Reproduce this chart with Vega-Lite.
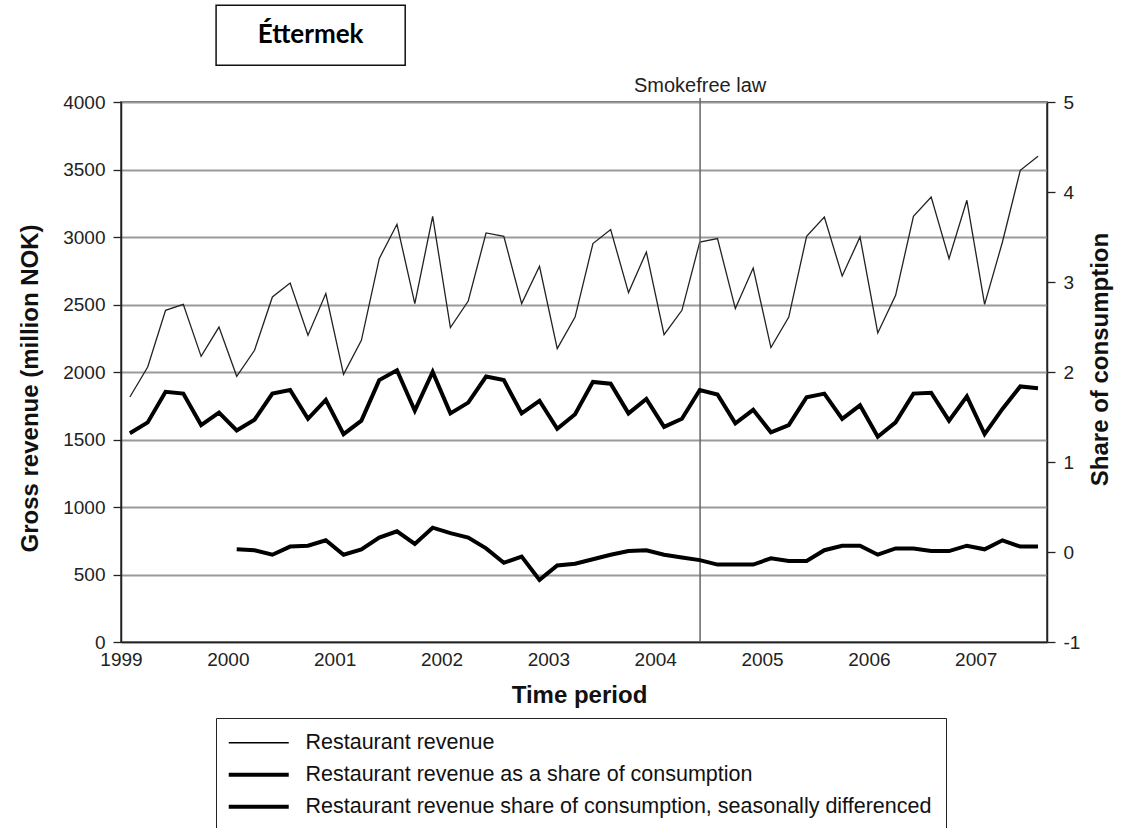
{
  "$schema": "https://vega.github.io/schema/vega-lite/v6.json",
  "width": 926,
  "height": 540,
  "autosize": "none",
  "padding": {"left": 121, "top": 102, "right": 77, "bottom": 186},
  "background": "white",
  "config": {
    "font": "Liberation Sans",
    "view": {"stroke": "#333", "strokeWidth": 1.5},
    "axis": {
      "labelFont": "Liberation Sans", "labelFontSize": 19, "labelColor": "#222",
      "titleFont": "Liberation Sans", "titleFontSize": 24, "titleFontWeight": "bold", "titleColor": "#111",
      "domainColor": "#222", "domainWidth": 1.5, "tickColor": "#222", "tickWidth": 1.3, "tickSize": 8, "labelPadding": 8
    }
  },
  "datasets": {
    "revenue": [
      {"t": 1999.083, "series": "Restaurant revenue", "value": 1815},
      {"t": 1999.25, "series": "Restaurant revenue", "value": 2037},
      {"t": 1999.417, "series": "Restaurant revenue", "value": 2457},
      {"t": 1999.583, "series": "Restaurant revenue", "value": 2501},
      {"t": 1999.75, "series": "Restaurant revenue", "value": 2116},
      {"t": 1999.917, "series": "Restaurant revenue", "value": 2333},
      {"t": 2000.083, "series": "Restaurant revenue", "value": 1968},
      {"t": 2000.25, "series": "Restaurant revenue", "value": 2161},
      {"t": 2000.417, "series": "Restaurant revenue", "value": 2556},
      {"t": 2000.583, "series": "Restaurant revenue", "value": 2659},
      {"t": 2000.75, "series": "Restaurant revenue", "value": 2272},
      {"t": 2000.917, "series": "Restaurant revenue", "value": 2581},
      {"t": 2001.083, "series": "Restaurant revenue", "value": 1983},
      {"t": 2001.25, "series": "Restaurant revenue", "value": 2235},
      {"t": 2001.417, "series": "Restaurant revenue", "value": 2840},
      {"t": 2001.583, "series": "Restaurant revenue", "value": 3094},
      {"t": 2001.75, "series": "Restaurant revenue", "value": 2507},
      {"t": 2001.917, "series": "Restaurant revenue", "value": 3153},
      {"t": 2002.083, "series": "Restaurant revenue", "value": 2329},
      {"t": 2002.25, "series": "Restaurant revenue", "value": 2526},
      {"t": 2002.417, "series": "Restaurant revenue", "value": 3030},
      {"t": 2002.583, "series": "Restaurant revenue", "value": 3005},
      {"t": 2002.75, "series": "Restaurant revenue", "value": 2507},
      {"t": 2002.917, "series": "Restaurant revenue", "value": 2783},
      {"t": 2003.083, "series": "Restaurant revenue", "value": 2173},
      {"t": 2003.25, "series": "Restaurant revenue", "value": 2407},
      {"t": 2003.417, "series": "Restaurant revenue", "value": 2951},
      {"t": 2003.583, "series": "Restaurant revenue", "value": 3055},
      {"t": 2003.75, "series": "Restaurant revenue", "value": 2588},
      {"t": 2003.917, "series": "Restaurant revenue", "value": 2889},
      {"t": 2004.083, "series": "Restaurant revenue", "value": 2277},
      {"t": 2004.25, "series": "Restaurant revenue", "value": 2457},
      {"t": 2004.417, "series": "Restaurant revenue", "value": 2963},
      {"t": 2004.583, "series": "Restaurant revenue", "value": 2988},
      {"t": 2004.75, "series": "Restaurant revenue", "value": 2470},
      {"t": 2004.917, "series": "Restaurant revenue", "value": 2770},
      {"t": 2005.083, "series": "Restaurant revenue", "value": 2181},
      {"t": 2005.25, "series": "Restaurant revenue", "value": 2407},
      {"t": 2005.417, "series": "Restaurant revenue", "value": 3005},
      {"t": 2005.583, "series": "Restaurant revenue", "value": 3148},
      {"t": 2005.75, "series": "Restaurant revenue", "value": 2711},
      {"t": 2005.917, "series": "Restaurant revenue", "value": 3000},
      {"t": 2006.083, "series": "Restaurant revenue", "value": 2289},
      {"t": 2006.25, "series": "Restaurant revenue", "value": 2568},
      {"t": 2006.417, "series": "Restaurant revenue", "value": 3153},
      {"t": 2006.583, "series": "Restaurant revenue", "value": 3296},
      {"t": 2006.75, "series": "Restaurant revenue", "value": 2840},
      {"t": 2006.917, "series": "Restaurant revenue", "value": 3272},
      {"t": 2007.083, "series": "Restaurant revenue", "value": 2501},
      {"t": 2007.25, "series": "Restaurant revenue", "value": 2963},
      {"t": 2007.417, "series": "Restaurant revenue", "value": 3494},
      {"t": 2007.583, "series": "Restaurant revenue", "value": 3598}
    ],
    "share": [
      {"t": 1999.083, "series": "Restaurant revenue as a share of consumption", "value": 1.32},
      {"t": 1999.25, "series": "Restaurant revenue as a share of consumption", "value": 1.44},
      {"t": 1999.417, "series": "Restaurant revenue as a share of consumption", "value": 1.78},
      {"t": 1999.583, "series": "Restaurant revenue as a share of consumption", "value": 1.76},
      {"t": 1999.75, "series": "Restaurant revenue as a share of consumption", "value": 1.41},
      {"t": 1999.917, "series": "Restaurant revenue as a share of consumption", "value": 1.55},
      {"t": 2000.083, "series": "Restaurant revenue as a share of consumption", "value": 1.35},
      {"t": 2000.25, "series": "Restaurant revenue as a share of consumption", "value": 1.47},
      {"t": 2000.417, "series": "Restaurant revenue as a share of consumption", "value": 1.76},
      {"t": 2000.583, "series": "Restaurant revenue as a share of consumption", "value": 1.80},
      {"t": 2000.75, "series": "Restaurant revenue as a share of consumption", "value": 1.48},
      {"t": 2000.917, "series": "Restaurant revenue as a share of consumption", "value": 1.69},
      {"t": 2001.083, "series": "Restaurant revenue as a share of consumption", "value": 1.31},
      {"t": 2001.25, "series": "Restaurant revenue as a share of consumption", "value": 1.46},
      {"t": 2001.417, "series": "Restaurant revenue as a share of consumption", "value": 1.91},
      {"t": 2001.583, "series": "Restaurant revenue as a share of consumption", "value": 2.02},
      {"t": 2001.75, "series": "Restaurant revenue as a share of consumption", "value": 1.57},
      {"t": 2001.917, "series": "Restaurant revenue as a share of consumption", "value": 2.00},
      {"t": 2002.083, "series": "Restaurant revenue as a share of consumption", "value": 1.54},
      {"t": 2002.25, "series": "Restaurant revenue as a share of consumption", "value": 1.66},
      {"t": 2002.417, "series": "Restaurant revenue as a share of consumption", "value": 1.95},
      {"t": 2002.583, "series": "Restaurant revenue as a share of consumption", "value": 1.91},
      {"t": 2002.75, "series": "Restaurant revenue as a share of consumption", "value": 1.54},
      {"t": 2002.917, "series": "Restaurant revenue as a share of consumption", "value": 1.68},
      {"t": 2003.083, "series": "Restaurant revenue as a share of consumption", "value": 1.37},
      {"t": 2003.25, "series": "Restaurant revenue as a share of consumption", "value": 1.53},
      {"t": 2003.417, "series": "Restaurant revenue as a share of consumption", "value": 1.89},
      {"t": 2003.583, "series": "Restaurant revenue as a share of consumption", "value": 1.87},
      {"t": 2003.75, "series": "Restaurant revenue as a share of consumption", "value": 1.54},
      {"t": 2003.917, "series": "Restaurant revenue as a share of consumption", "value": 1.70},
      {"t": 2004.083, "series": "Restaurant revenue as a share of consumption", "value": 1.39},
      {"t": 2004.25, "series": "Restaurant revenue as a share of consumption", "value": 1.48},
      {"t": 2004.417, "series": "Restaurant revenue as a share of consumption", "value": 1.80},
      {"t": 2004.583, "series": "Restaurant revenue as a share of consumption", "value": 1.75},
      {"t": 2004.75, "series": "Restaurant revenue as a share of consumption", "value": 1.43},
      {"t": 2004.917, "series": "Restaurant revenue as a share of consumption", "value": 1.58},
      {"t": 2005.083, "series": "Restaurant revenue as a share of consumption", "value": 1.33},
      {"t": 2005.25, "series": "Restaurant revenue as a share of consumption", "value": 1.41},
      {"t": 2005.417, "series": "Restaurant revenue as a share of consumption", "value": 1.72},
      {"t": 2005.583, "series": "Restaurant revenue as a share of consumption", "value": 1.76},
      {"t": 2005.75, "series": "Restaurant revenue as a share of consumption", "value": 1.48},
      {"t": 2005.917, "series": "Restaurant revenue as a share of consumption", "value": 1.63},
      {"t": 2006.083, "series": "Restaurant revenue as a share of consumption", "value": 1.28},
      {"t": 2006.25, "series": "Restaurant revenue as a share of consumption", "value": 1.44},
      {"t": 2006.417, "series": "Restaurant revenue as a share of consumption", "value": 1.76},
      {"t": 2006.583, "series": "Restaurant revenue as a share of consumption", "value": 1.77},
      {"t": 2006.75, "series": "Restaurant revenue as a share of consumption", "value": 1.46},
      {"t": 2006.917, "series": "Restaurant revenue as a share of consumption", "value": 1.73},
      {"t": 2007.083, "series": "Restaurant revenue as a share of consumption", "value": 1.31},
      {"t": 2007.25, "series": "Restaurant revenue as a share of consumption", "value": 1.59},
      {"t": 2007.417, "series": "Restaurant revenue as a share of consumption", "value": 1.84},
      {"t": 2007.583, "series": "Restaurant revenue as a share of consumption", "value": 1.82},
      {"t": 2000.083, "series": "Restaurant revenue share of consumption, seasonally differenced", "value": 0.03},
      {"t": 2000.25, "series": "Restaurant revenue share of consumption, seasonally differenced", "value": 0.02},
      {"t": 2000.417, "series": "Restaurant revenue share of consumption, seasonally differenced", "value": -0.03},
      {"t": 2000.583, "series": "Restaurant revenue share of consumption, seasonally differenced", "value": 0.06},
      {"t": 2000.75, "series": "Restaurant revenue share of consumption, seasonally differenced", "value": 0.07},
      {"t": 2000.917, "series": "Restaurant revenue share of consumption, seasonally differenced", "value": 0.13},
      {"t": 2001.083, "series": "Restaurant revenue share of consumption, seasonally differenced", "value": -0.03},
      {"t": 2001.25, "series": "Restaurant revenue share of consumption, seasonally differenced", "value": 0.03},
      {"t": 2001.417, "series": "Restaurant revenue share of consumption, seasonally differenced", "value": 0.16},
      {"t": 2001.583, "series": "Restaurant revenue share of consumption, seasonally differenced", "value": 0.23},
      {"t": 2001.75, "series": "Restaurant revenue share of consumption, seasonally differenced", "value": 0.09},
      {"t": 2001.917, "series": "Restaurant revenue share of consumption, seasonally differenced", "value": 0.27},
      {"t": 2002.083, "series": "Restaurant revenue share of consumption, seasonally differenced", "value": 0.21},
      {"t": 2002.25, "series": "Restaurant revenue share of consumption, seasonally differenced", "value": 0.16},
      {"t": 2002.417, "series": "Restaurant revenue share of consumption, seasonally differenced", "value": 0.04},
      {"t": 2002.583, "series": "Restaurant revenue share of consumption, seasonally differenced", "value": -0.12},
      {"t": 2002.75, "series": "Restaurant revenue share of consumption, seasonally differenced", "value": -0.05},
      {"t": 2002.917, "series": "Restaurant revenue share of consumption, seasonally differenced", "value": -0.31},
      {"t": 2003.083, "series": "Restaurant revenue share of consumption, seasonally differenced", "value": -0.15},
      {"t": 2003.25, "series": "Restaurant revenue share of consumption, seasonally differenced", "value": -0.13},
      {"t": 2003.417, "series": "Restaurant revenue share of consumption, seasonally differenced", "value": -0.08},
      {"t": 2003.583, "series": "Restaurant revenue share of consumption, seasonally differenced", "value": -0.03},
      {"t": 2003.75, "series": "Restaurant revenue share of consumption, seasonally differenced", "value": 0.01},
      {"t": 2003.917, "series": "Restaurant revenue share of consumption, seasonally differenced", "value": 0.02},
      {"t": 2004.083, "series": "Restaurant revenue share of consumption, seasonally differenced", "value": -0.03},
      {"t": 2004.25, "series": "Restaurant revenue share of consumption, seasonally differenced", "value": -0.06},
      {"t": 2004.417, "series": "Restaurant revenue share of consumption, seasonally differenced", "value": -0.09},
      {"t": 2004.583, "series": "Restaurant revenue share of consumption, seasonally differenced", "value": -0.14},
      {"t": 2004.75, "series": "Restaurant revenue share of consumption, seasonally differenced", "value": -0.14},
      {"t": 2004.917, "series": "Restaurant revenue share of consumption, seasonally differenced", "value": -0.14},
      {"t": 2005.083, "series": "Restaurant revenue share of consumption, seasonally differenced", "value": -0.07},
      {"t": 2005.25, "series": "Restaurant revenue share of consumption, seasonally differenced", "value": -0.10},
      {"t": 2005.417, "series": "Restaurant revenue share of consumption, seasonally differenced", "value": -0.10},
      {"t": 2005.583, "series": "Restaurant revenue share of consumption, seasonally differenced", "value": 0.02},
      {"t": 2005.75, "series": "Restaurant revenue share of consumption, seasonally differenced", "value": 0.07},
      {"t": 2005.917, "series": "Restaurant revenue share of consumption, seasonally differenced", "value": 0.07},
      {"t": 2006.083, "series": "Restaurant revenue share of consumption, seasonally differenced", "value": -0.03},
      {"t": 2006.25, "series": "Restaurant revenue share of consumption, seasonally differenced", "value": 0.04},
      {"t": 2006.417, "series": "Restaurant revenue share of consumption, seasonally differenced", "value": 0.04},
      {"t": 2006.583, "series": "Restaurant revenue share of consumption, seasonally differenced", "value": 0.01},
      {"t": 2006.75, "series": "Restaurant revenue share of consumption, seasonally differenced", "value": 0.01},
      {"t": 2006.917, "series": "Restaurant revenue share of consumption, seasonally differenced", "value": 0.07},
      {"t": 2007.083, "series": "Restaurant revenue share of consumption, seasonally differenced", "value": 0.03},
      {"t": 2007.25, "series": "Restaurant revenue share of consumption, seasonally differenced", "value": 0.13},
      {"t": 2007.417, "series": "Restaurant revenue share of consumption, seasonally differenced", "value": 0.06},
      {"t": 2007.583, "series": "Restaurant revenue share of consumption, seasonally differenced", "value": 0.06}
    ],
    "law": [{"t": 2004.42, "event": "Smokefree law"}],
    "label": [{"text": "Éttermek"}]
  },
  "layer": [
    {
      "layer": [
        {
          "data": {"name": "revenue"},
          "mark": {"type": "line", "color": "#222", "interpolate": "linear"},
          "encoding": {
            "x": {
              "field": "t", "type": "quantitative", "title": "Time period",
              "scale": {"domain": [1999, 2007.667], "nice": false, "zero": false},
              "axis": {"values": [1999, 2000, 2001, 2002, 2003, 2004, 2005, 2006, 2007], "format": "d", "labelFlush": false, "grid": false, "ticks": false, "labelPadding": 8, "titleX": 458, "titleY": 53, "titleBaseline": "middle"}
            },
            "y": {
              "field": "value", "type": "quantitative", "title": "Gross revenue (million NOK)",
              "scale": {"domain": [0, 4000], "nice": false, "zero": false},
              "axis": {"values": [0, 500, 1000, 1500, 2000, 2500, 3000, 3500, 4000], "format": "d", "grid": true, "gridColor": "#9a9a9a", "gridWidth": 2, "titleX": -91, "titleY": 286, "titleBaseline": "middle", "titleAngle": 270}
            },
            "strokeWidth": {
              "field": "series", "type": "nominal",
              "scale": {"type": "ordinal", "domain": ["Restaurant revenue", "Restaurant revenue as a share of consumption", "Restaurant revenue share of consumption, seasonally differenced"], "range": [1.3, 4, 4]},
              "legend": {"orient": "none", "legendX": 95, "legendY": 616, "title": null, "symbolType": "M-2.4,0H9.6", "symbolSize": 100, "symbolStrokeColor": "#111", "labelFont": "Liberation Sans", "labelFontSize": 21.5, "labelColor": "#111", "labelLimit": 0, "labelOffset": 54, "strokeColor": "#222", "padding": 14, "rowPadding": 9}
            }
          }
        },
        {
          "data": {"name": "law"},
          "mark": {"type": "rule", "color": "#666", "strokeWidth": 1.5},
          "encoding": {
            "x": {"field": "t", "type": "quantitative", "title": "Time period"},
            "y": {"datum": 0, "title": "Gross revenue (million NOK)"},
            "y2": {"datum": 4030}
          }
        },
        {
          "data": {"name": "law"},
          "mark": {"type": "text", "baseline": "bottom", "align": "center", "font": "Liberation Sans", "fontSize": 20, "color": "#222", "dy": -2},
          "encoding": {
            "x": {"field": "t", "type": "quantitative", "title": "Time period"},
            "y": {"datum": 4030, "title": "Gross revenue (million NOK)"},
            "text": {"field": "event"}
          }
        },
        {
          "data": {"name": "label"},
          "mark": {"type": "rect", "fill": "white", "stroke": "#111", "strokeWidth": 1.5},
          "encoding": {
            "x": {"datum": 1999.89, "title": "Time period"},
            "x2": {"datum": 2001.66},
            "y": {"datum": 4716, "title": "Gross revenue (million NOK)"},
            "y2": {"datum": 4272}
          }
        },
        {
          "data": {"name": "label"},
          "mark": {"type": "text", "align": "center", "baseline": "middle", "font": "Lato", "fontWeight": "bold", "fontSize": 26, "color": "#000"},
          "encoding": {
            "x": {"datum": 2000.775, "title": "Time period"},
            "y": {"datum": 4494, "title": "Gross revenue (million NOK)"},
            "text": {"field": "text"}
          }
        }
      ]
    },
    {
      "data": {"name": "share"},
      "mark": {"type": "line", "color": "#000", "interpolate": "linear"},
      "encoding": {
        "x": {"field": "t", "type": "quantitative", "title": "Time period"},
        "y": {
          "field": "value", "type": "quantitative", "title": "Share of consumption",
          "scale": {"domain": [-1, 5], "nice": false, "zero": false},
          "axis": {"orient": "right", "values": [-1, 0, 1, 2, 3, 4, 5], "labelExpr": "'' + datum.value", "grid": false, "titleX": 53, "titleY": 257, "titleBaseline": "middle", "titleAngle": 270}
        },
        "strokeWidth": {
          "field": "series", "type": "nominal",
          "scale": {"type": "ordinal", "domain": ["Restaurant revenue", "Restaurant revenue as a share of consumption", "Restaurant revenue share of consumption, seasonally differenced"], "range": [1.3, 4, 4]}
        }
      }
    }
  ],
  "resolve": {"scale": {"y": "independent", "strokeWidth": "shared"}, "legend": {"strokeWidth": "shared"}}
}
